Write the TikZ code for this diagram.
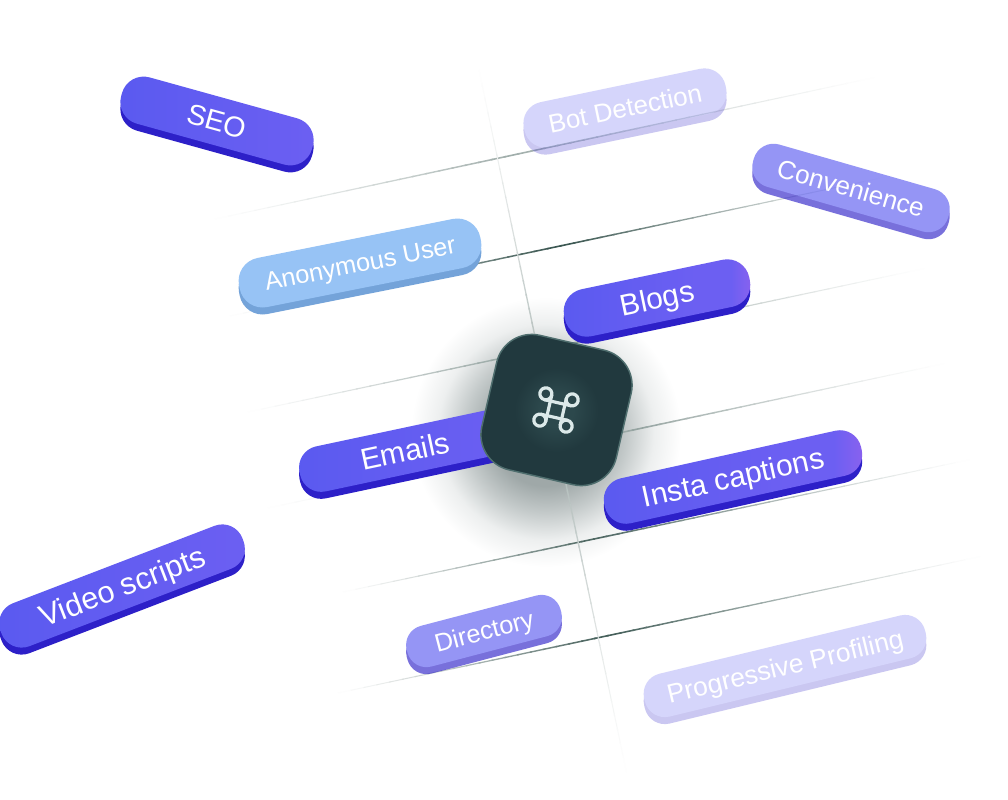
\documentclass[tikz,border=0pt]{standalone}
\usepackage{fontspec}
\setmainfont{Liberation Sans}
\usetikzlibrary{calc}
\definecolor{pA}{HTML}{5A5AF0}
\definecolor{pB}{HTML}{6C5FF2}
\definecolor{pTip}{HTML}{8C62EE}
\definecolor{pSide}{HTML}{2D20C8}
\definecolor{bFace}{HTML}{97C3F5}
\definecolor{bSide}{HTML}{74A3D9}
\definecolor{tileC}{HTML}{21393E}
\definecolor{tileE}{HTML}{4F6E6E}
\definecolor{tileG}{HTML}{2C484C}
\definecolor{iconC}{HTML}{DCE9E9}
\definecolor{lineC}{HTML}{2C4A44}
\definecolor{shA}{HTML}{9FA8A8}
\definecolor{shB}{HTML}{C4CACA}
\definecolor{shC}{HTML}{EDEFEF}
\pgfdeclarehorizontalshading{pilltip}{100bp}{color(0bp)=(pA); color(25bp)=(pA); color(60bp)=(pB); color(69bp)=(pB); color(75bp)=(pTip); color(100bp)=(pTip)}
\pgfdeclareradialshading{tileglow}{\pgfpoint{0bp}{0bp}}{color(0bp)=(shA); color(10bp)=(shA); color(15bp)=(shB); color(20bp)=(shC); color(25bp)=(white); color(50bp)=(white)}
\pgfdeclareradialshading{iconglow}{\pgfpoint{0bp}{0bp}}{color(0bp)=(tileG); color(10bp)=(tileG); color(25bp)=(tileC); color(50bp)=(tileC)}
\tikzset{
  pillbase/.style={rectangle,inner sep=0pt,text=white},
  faceP/.style={pillbase,shade,left color=pA,right color=pB},
  faceF/.style={pillbase,fill=pA},
  faceT/.style={pillbase,shade,shading=pilltip},
  faceB/.style={pillbase,fill=bFace},
  sideP/.style={pillbase,fill=pSide},
  sideB/.style={pillbase,fill=bSide},
  tilebox/.style={rectangle,fill=tileC,draw=tileE,line width=1.1pt,rounded corners=27pt,minimum size=103.5pt,inner sep=0pt},
  gridseg/.style={line cap=butt},
  iconline/.style={draw=iconC,line width=2.4pt,line cap=round}
}
% name, x, y, angle, length, height, face style, side style, font size; text in \pilltext
\newcommand\pill[9]{%
  \node[#8,rotate=#4,minimum width=#5*.75pt,minimum height=#6*.75pt,rounded corners=#6*.35pt] (#1s) at (#2,#3+7) {};
  \node[#7,rotate=#4,minimum width=#5*.75pt,minimum height=#6*.75pt,rounded corners=#6*.35pt,font=\fontsize{#9}{#9}\selectfont] (#1) at (#2,#3) {\raisebox{0pt}[.72em][0pt]{\pilltext}};
}
\newcommand\pilltext{}
\newcommand\gridline[4]{% from, to, peak position, peak strength
  \foreach \i in {1,...,50}{
    \pgfmathsetmacro\tA{(\i-1)/50}
    \pgfmathsetmacro\tB{(\i+0.15)/50}
    \pgfmathsetmacro\tM{(\i-0.5)/50}
    \pgfmathsetmacro\fd{\tM<#3?\tM/#3:(1-\tM)/(1-#3)}
    \pgfmathsetmacro\mx{#4*pow(\fd,1.2)}
    \pgfmathsetmacro\lw{0.6+0.6*\fd}
    \draw[gridseg,line width=\lw pt,lineC!\mx!white] ($(#1)!\tA!(#2)$) -- ($(#1)!\tB!(#2)$);
  }
}
\begin{document}
\begin{tikzpicture}[x=.75pt,y=-.75pt]
\useasboundingbox (0,0) rectangle (1008,800);
\fill[white] (0,0) rectangle (1008,800);
% shadow
\shade[shading=tileglow] (546,432) circle (135);
% grid
\coordinate (a1) at (215,219); \coordinate (b1) at (872,78);
\coordinate (a2) at (230,316); \coordinate (b2) at (890,176);
\coordinate (a3) at (248,412); \coordinate (b3) at (922,269);
\coordinate (a4) at (268,508); \coordinate (b4) at (942,364);
\coordinate (a5) at (343,592); \coordinate (b5) at (968,460);
\coordinate (a6) at (338,693); \coordinate (b6) at (978,557);
\coordinate (v1) at (479,70); \coordinate (v2) at (626,770);
\gridline{a1}{b1}{0.45}{45}
\gridline{a2}{b2}{0.5}{95}
\gridline{a3}{b3}{0.45}{60}
\gridline{a4}{b4}{0.55}{50}
\gridline{a5}{b5}{0.4}{85}
\gridline{a6}{b6}{0.42}{90}
\gridline{v1}{v2}{0.5}{45}
% pills
\renewcommand\pilltext{SEO}
\pill{seo}{217}{121}{-15.5}{198}{48}{faceP}{sideP}{21.5}
\renewcommand\pilltext{Emails}
\pill{emails}{405}{451}{12}{215}{46}{faceP}{sideP}{22.5}
% tile
\node[tilebox,rotate=-13] (tile) at (556.5,410) {};
\shade[shading=iconglow] (556.5,410) circle (42);
\begin{scope}[shift={(556,410)},rotate=-13]
  \foreach \sx in {-1,1}{
    \draw[iconline] (\sx*7.5,-13.5) -- (\sx*7.5,13.5);
    \draw[iconline] (-13.5,\sx*7.5) -- (13.5,\sx*7.5);
    \foreach \sy in {-1,1}{
      \draw[iconline] (\sx*13.5,\sy*13.5) circle (6);
    }
  }
\end{scope}
\begin{scope}[transparency group,opacity=.25]
\renewcommand\pilltext{Bot Detection}
\pill{bot}{625}{108}{11.8}{206}{46}{faceF}{sideP}{19.5}
\end{scope}
\begin{scope}[transparency group,opacity=.25]
\renewcommand\pilltext{Progressive Profiling}
\pill{prog}{785}{666}{13.6}{289}{44}{faceF}{sideP}{19.8}
\end{scope}
\begin{scope}[transparency group,opacity=.64]
\renewcommand\pilltext{Convenience}
\pill{conv}{851}{188}{-16}{203}{44}{faceF}{sideP}{19.5}
\end{scope}
\begin{scope}[transparency group,opacity=.64]
\renewcommand\pilltext{Directory}
\pill{dir}{484}{631}{14.7}{159}{42}{faceF}{sideP}{19}
\end{scope}
\renewcommand\pilltext{Anonymous User}
\pill{anon}{360}{263}{11.3}{246}{50}{faceB}{sideB}{19}
\renewcommand\pilltext{Blogs}
\pill{blogs}{657}{298}{11.8}{189}{48}{faceT}{sideP}{22.5}
\renewcommand\pilltext{Insta captions}
\pill{insta}{733}{477}{12.5}{263}{46}{faceT}{sideP}{22.5}
\renewcommand\pilltext{Video scripts}
\pill{video}{122}{586}{21}{259}{46}{faceP}{sideP}{23}
\end{tikzpicture}
\end{document}
